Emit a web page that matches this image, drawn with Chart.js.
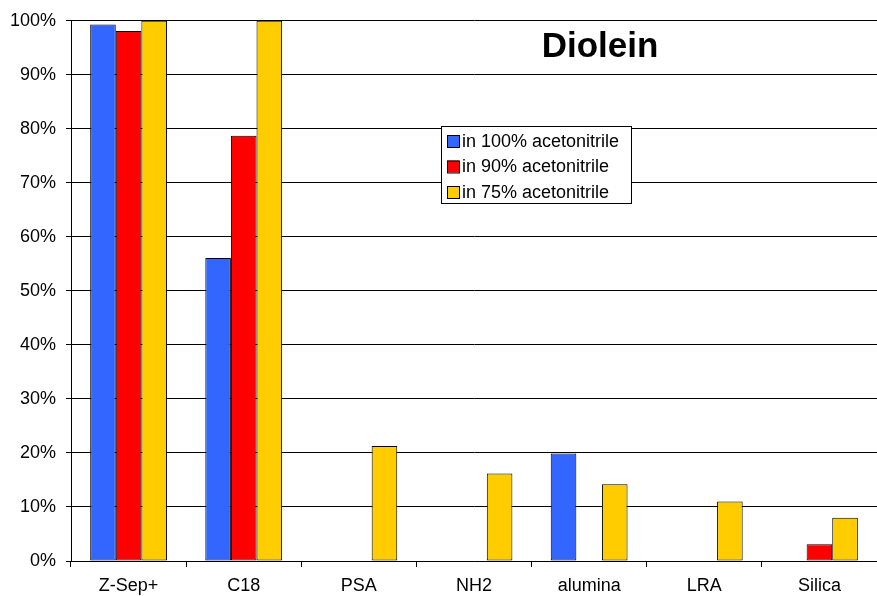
<!DOCTYPE html>
<html>
<head>
<meta charset="utf-8">
<script src="https://cdn.jsdelivr.net/npm/chart.js@4/dist/chart.umd.min.js"></script>
<style>
  body { margin: 0; background: #fff; }
  canvas { display: block; }
</style>
</head>
<body>
<canvas id="chart" width="877" height="596"></canvas>
<script>
const categories = ['Z-Sep+', 'C18', 'PSA', 'NH2', 'alumina', 'LRA', 'Silica'];
const seriesNames = ['in 100% acetonitrile', 'in 90% acetonitrile', 'in 75% acetonitrile'];
const acn100 = [99.3, 56.1, 0, 0, 19.9, 0, 0];
const acn90 = [98.1, 78.7, 0, 0, 0, 0, 3.1];
const acn75 = [100, 100, 21.3, 16.2, 14.2, 11.0, 8.0];
const yTicks = [0, 10, 20, 30, 40, 50, 60, 70, 80, 90, 100];
const colors = ['#3366FF', '#FF0000', '#FFCC00'];
const chartTitle = 'Diolein';

const FONT = '"Liberation Sans", Arial, sans-serif';
Chart.defaults.font.family = FONT;
Chart.defaults.color = '#000';

// title and boxed legend drawn on top of the plot
const overlay = {
    id: 'overlay',
    afterDraw(chart) {
        const c = chart.ctx;
        c.save();
        c.fillStyle = '#000';
        c.font = 'bold 35px ' + FONT;
        c.textAlign = 'center';
        c.textBaseline = 'alphabetic';
        c.fillText(chartTitle, 600, 57);

        const x = 441, y = 126, w = 190, h = 77;
        c.fillStyle = '#fff';
        c.fillRect(x, y, w, h);
        c.strokeStyle = '#000';
        c.lineWidth = 1;
        c.strokeRect(x + 0.5, y + 0.5, w, h);
        c.font = '18px ' + FONT;
        c.textAlign = 'left';
        c.textBaseline = 'middle';
        chart.data.datasets.forEach((ds, i) => {
            const ly = y + 15 + i * 25.5;
            c.fillStyle = ds.backgroundColor;
            c.fillRect(x + 6, ly - 6, 12, 12);
            c.strokeRect(x + 6.5, ly - 5.5, 12, 12);
            c.fillStyle = '#000';
            c.fillText(ds.label, x + 21, ly + 1);
        });
        c.restore();
    }
};

const datasets = [acn100, acn90, acn75].map((vals, i) => ({
    label: seriesNames[i],
    data: vals,
    backgroundColor: colors[i],
    borderColor: '#000',
    borderWidth: vals.map(v => (v ? 1 : 0)),
    borderSkipped: false,
    inflateAmount: 0,
    categoryPercentage: 0.667,
    barPercentage: 1
}));

new Chart(document.getElementById('chart'), {
    type: 'bar',
    data: { labels: categories, datasets: datasets },
    plugins: [overlay],
    options: {
        responsive: false,
        animation: false,
        layout: { padding: { top: 18, right: 0, left: 0, bottom: 0 } },
        plugins: {
            legend: { display: false },
            tooltip: { enabled: false }
        },
        scales: {
            x: {
                offset: true,
                afterFit: s => { s.height = 35; },
                grid: {
                    offset: true,
                    drawOnChartArea: false,
                    drawTicks: true,
                    tickLength: 6,
                    color: '#000',
                    z: -1
                },
                border: { color: '#000', width: 1 },
                ticks: { font: { size: 18 }, padding: 8 }
            },
            y: {
                min: 0,
                max: 100,
                afterFit: s => { s.width = 71; },
                afterBuildTicks: s => { s.ticks = yTicks.map(v => ({ value: v })); },
                grid: { color: '#000', tickLength: 5, lineWidth: 1, z: -1 },
                border: { color: '#000', width: 1 },
                ticks: {
                    font: { size: 18 },
                    padding: 10,
                    callback: v => v + '%'
                }
            }
        }
    }
});
</script>
</body>
</html>
